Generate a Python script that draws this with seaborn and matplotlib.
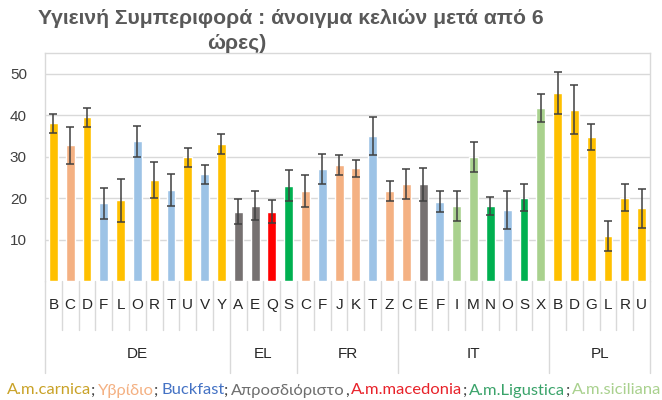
import matplotlib
matplotlib.use("Agg")
import matplotlib.pyplot as plt
import seaborn as sns
import pandas as pd
import numpy as np
from matplotlib.transforms import blended_transform_factory

# ---------------- data ----------------
countries = ["DE"] * 11 + ["EL"] * 4 + ["FR"] * 6 + ["IT"] * 9 + ["PL"] * 6
letters = (list("BCDFLORTUVY") + list("AEQS") + list("CFJKTZ")
           + list("CEFIMNOSX") + list("BDGLRU"))
varieties = (
    ["carnica", "hybrid", "carnica", "buckfast", "carnica", "buckfast",
     "carnica", "buckfast", "carnica", "buckfast", "carnica"]
    + ["undetermined", "undetermined", "macedonia", "ligustica"]
    + ["hybrid", "buckfast", "hybrid", "hybrid", "buckfast", "hybrid"]
    + ["hybrid", "undetermined", "buckfast", "siciliana", "siciliana",
       "ligustica", "buckfast", "ligustica", "siciliana"]
    + ["carnica"] * 6
)
values = ([38.0, 32.7, 39.5, 18.7, 19.5, 33.7, 24.4, 22.0, 29.8, 25.7, 33.1]
          + [16.7, 18.1, 16.7, 23.0]
          + [21.7, 27.1, 28.0, 27.2, 35.0, 21.7]
          + [23.3, 23.3, 19.1, 18.1, 29.9, 18.1, 17.1, 20.1, 41.7]
          + [45.4, 41.3, 34.7, 10.8, 20.1, 17.5])
errors = ([2.3, 4.5, 2.3, 3.7, 5.2, 3.8, 4.3, 3.8, 2.2, 2.4, 2.4]
          + [3.0, 3.5, 2.8, 3.8]
          + [3.8, 3.6, 2.5, 2.0, 4.6, 2.5]
          + [3.6, 4.0, 2.5, 3.7, 3.7, 2.2, 4.5, 3.2, 3.3]
          + [5.1, 5.9, 3.1, 3.6, 3.3, 4.6])
yticks = [10, 20, 30, 40, 50]
title_line1 = "Υγιεινή Συμπεριφορά : άνοιγμα κελιών μετά από 6"
title_line2 = "ώρες)"
legend_parts = [
    ("A.m.carnica", "#C9A227"),
    (";", "#404040"),
    ("Υβρίδιο", "#F4B183"),
    (";", "#404040"),
    ("Buckfast", "#4472C4"),
    (";", "#404040"),
    ("Απροσδιόριστο", "#6E6E6E"),
    (",", "#404040"),
    ("A.m.macedonia", "#E8222A"),
    (";", "#404040"),
    ("A.m.Ligustica", "#3AA36A"),
    (";", "#404040"),
    ("A.m.siciliana", "#A9D18E"),
]

palette = {
    "carnica": "#FFC000",
    "hybrid": "#F4B183",
    "buckfast": "#9DC3E6",
    "undetermined": "#767171",
    "macedonia": "#FF0000",
    "ligustica": "#00B050",
    "siciliana": "#A9D18E",
}

# ---------------- figure ----------------
sns.set_theme(style="white")
plt.rcParams["font.family"] = ["Liberation Sans", "DejaVu Sans"]

W, H = 662, 400
fig = plt.figure(figsize=(W / 100, H / 100), dpi=100)
fig.patch.set_facecolor("white")
ax = fig.add_axes([45 / W, (H - 281) / H, 605 / W, 228 / H])

n = len(values)
ids = [f"{c}-{l}-{i}" for i, (c, l) in enumerate(zip(countries, letters))]
df = pd.DataFrame({"id": ids, "letter": letters, "country": countries,
                   "variety": varieties, "value": values, "err": errors})

sns.barplot(data=df, x="id", y="value", hue="variety", palette=palette,
            order=ids, dodge=False, width=0.53, errorbar=None, legend=False,
            ax=ax, saturation=1, zorder=2)
ax.errorbar(np.arange(n), df["value"], yerr=df["err"], fmt="none",
            ecolor="#404040", elinewidth=1.1, capsize=3, capthick=1.1, zorder=3)

ax.set_xlim(-0.5, n - 0.5)
ax.set_ylim(0, 55)
ax.set_yticks(yticks)
ax.set_yticklabels([str(t) for t in yticks], fontsize=11, color="#404040")
ax.yaxis.grid(True, color="#D9D9D9", lw=1)
ax.set_axisbelow(True)
ax.set_xticks(np.arange(n))
ax.set_xticklabels(letters, fontsize=11, color="#262626")
ax.tick_params(axis="x", length=0, pad=12.5)
ax.tick_params(axis="y", length=0, pad=13)
ax.set_xlabel("")
ax.set_ylabel("")
ax.spines["bottom"].set_visible(False)
for s in ["top", "left", "right"]:
    ax.spines[s].set_color("#D9D9D9")
    ax.spines[s].set_linewidth(1)

# multi-level category separators
tr = blended_transform_factory(ax.transData, ax.transAxes)
bounds = [0]
for i in range(1, n):
    if countries[i] != countries[i - 1]:
        bounds.append(i)
bounds.append(n)
for i in range(n + 1):
    low = -0.405 if i in bounds else -0.215
    ax.plot([i - 0.5, i - 0.5], [0, low], transform=tr, color="#D9D9D9",
            lw=1, clip_on=False, zorder=1)
for a, b in zip(bounds[:-1], bounds[1:]):
    ax.text((a + b - 1) / 2, -0.32, countries[a], transform=tr, ha="center",
            va="center", fontsize=11, color="#262626")

# title
fig.text(291 / W, 1 - 19 / H, title_line1, ha="center", va="center",
         fontsize=15.2, fontweight="bold", color="#595959")
fig.text(237 / W, 1 - 43 / H, title_line2, ha="center", va="center",
         fontsize=15.2, fontweight="bold", color="#595959")

# coloured text legend: segments laid out one after another
renderer = fig.canvas.get_renderer()
lfam = ["Lato", "DejaVu Sans"]


def text_width(s, size):
    t = fig.text(0, 0, s, fontsize=size, family=lfam)
    w = t.get_window_extent(renderer).width
    t.remove()
    return w


def layout(size):
    gap = size * 100 / 72 * 0.16
    xs, x = [], 0.0
    for i, (txt, _) in enumerate(legend_parts):
        xs.append(x)
        x += text_width(txt, size)
        if txt in (";", ","):
            x += gap
    return xs, x


fs = 10
for _ in range(3):
    _, total = layout(fs)
    fs = fs * 652 / total
xs, _ = layout(fs)
x0 = 7
for (txt, col), w in zip(legend_parts, xs):
    fig.text((x0 + w) / W, 1 - 389 / H, txt, ha="left", va="center_baseline",
             fontsize=fs, color=col, family=lfam)

fig.savefig("out.png", dpi=100)
